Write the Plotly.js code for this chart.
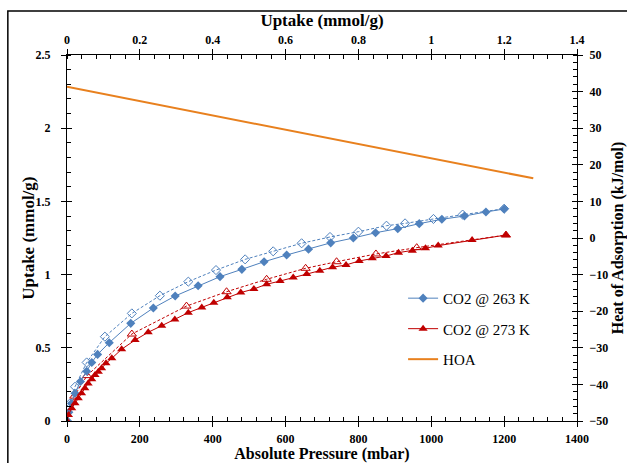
<!DOCTYPE html>
<html><head><meta charset="utf-8">
<script src="https://cdn.plot.ly/plotly-3.0.1.min.js"></script>
<style>body{margin:0;background:#fff}#c{width:627px;height:463px}</style>
</head><body><div id="c"></div>
<script>
// CO2 @ 263 K adsorption (filled diamonds)
const p263Ads = [0, 5, 12, 22, 37, 54, 68, 84, 116, 175, 237, 297, 360, 420, 480, 541, 603, 663, 724, 786, 847, 908, 967, 1029, 1091, 1150, 1200];
const u263Ads = [0, 0.06, 0.12, 0.19, 0.27, 0.34, 0.40, 0.455, 0.535, 0.667, 0.772, 0.854, 0.924, 0.986, 1.036, 1.088, 1.134, 1.174, 1.217, 1.25, 1.286, 1.314, 1.348, 1.378, 1.40, 1.428, 1.448];
// CO2 @ 263 K desorption (open diamonds, dashed)
const p263Des = [0, 8, 22, 54, 104, 178, 255, 333, 409, 489, 566, 644, 722, 800, 877, 928, 1006, 1086, 1200];
const u263Des = [0, 0.12, 0.234, 0.40, 0.576, 0.735, 0.856, 0.952, 1.031, 1.104, 1.159, 1.214, 1.257, 1.293, 1.334, 1.35, 1.38, 1.41, 1.45];
// CO2 @ 273 K adsorption (filled triangles)
const p273Ads = [0, 4, 13, 22, 31, 40, 49, 58, 68, 77, 86, 95, 107, 123, 150, 187, 223, 260, 296, 333, 370, 403, 440, 477, 513, 548, 585, 621, 658, 694, 729, 766, 802, 838, 876, 910, 948, 984, 1019, 1112, 1205];
const u273Ads = [0, 0.041, 0.087, 0.121, 0.155, 0.189, 0.223, 0.257, 0.285, 0.314, 0.337, 0.36, 0.394, 0.428, 0.49, 0.553, 0.606, 0.651, 0.694, 0.74, 0.776, 0.808, 0.845, 0.877, 0.902, 0.934, 0.956, 0.981, 1.004, 1.027, 1.05, 1.066, 1.093, 1.111, 1.127, 1.15, 1.163, 1.18, 1.198, 1.236, 1.27];
// CO2 @ 273 K desorption (open triangles, dashed)
const p273Des = [0, 20, 55, 178, 328, 438, 548, 655, 740, 848, 960, 1205];
const u273Des = [0, 0.17, 0.31, 0.594, 0.785, 0.883, 0.968, 1.043, 1.088, 1.141, 1.184, 1.27];
// Heat of adsorption vs uptake
const hoaUptake = [0, 1.28];
const hoaValue = [41.3, 16.3];

const blue = '#4F81BD', red = '#C00000', orange = '#E8801E';
const FONT = 'Liberation Serif, Times New Roman, serif';

const traces = [
  {x: p263Des, y: u263Des, mode: 'lines+markers', showlegend: false, hoverinfo: 'skip',
   line: {color: blue, width: 1, dash: '3px,2px'},
   marker: {symbol: 'diamond-open', size: 7, color: blue, line: {width: 1}}},
  {x: p273Des, y: u273Des, mode: 'lines+markers', showlegend: false, hoverinfo: 'skip',
   line: {color: red, width: 1, dash: '3px,2px'},
   marker: {symbol: 'triangle-up-open', size: 8, color: red, line: {width: 1}}},
  {x: p263Ads, y: u263Ads, mode: 'lines+markers', name: 'CO2 @ 263 K', legendgroup: 'a',
   line: {color: blue, width: 1},
   marker: {symbol: 'diamond', size: 7, color: blue}},
  {x: p273Ads, y: u273Ads, mode: 'lines+markers', name: 'CO2 @ 273 K', legendgroup: 'b',
   line: {color: red, width: 1},
   marker: {symbol: 'triangle-up', size: 8, color: red}},
  {x: hoaUptake, y: hoaValue, xaxis: 'x2', yaxis: 'y2', mode: 'lines', name: 'HOA', legendgroup: 'c',
   line: {color: orange, width: 2}},
  {x: [], y: [], xaxis: 'x3', yaxis: 'y3', showlegend: false, hoverinfo: 'skip'},
  {x: [], y: [], xaxis: 'x4', yaxis: 'y4', showlegend: false, hoverinfo: 'skip'}
];

const tickF = {family: FONT, size: 12, color: '#000', weight: 'bold'};
const titleF = {family: FONT, size: 16, color: '#000', weight: 'bold'};
const title17 = Object.assign({}, titleF, {size: 17});
const common = {showgrid: false, zeroline: false, showline: true, linecolor: '#000', linewidth: 1,
  ticks: 'outside', ticklen: 5, tickcolor: '#000', tickwidth: 1, tickfont: tickF,
  minor: {ticks: 'inside', ticklen: 4, tickcolor: '#000', tickwidth: 1}};

const layout = {
  width: 627, height: 463,
  margin: {l: 67, r: 50, t: 55, b: 42},
  paper_bgcolor: '#fff', plot_bgcolor: '#fff',
  font: {family: FONT, color: '#000'},
  showlegend: true,
  legend: {x: 0.659, y: 0.38, xanchor: 'left', yanchor: 'top', bgcolor: 'rgba(0,0,0,0)',
    font: {family: FONT, size: 15, color: '#000'}, traceorder: 'grouped', tracegroupgap: 8, itemwidth: 30},
  xaxis: Object.assign({}, common, {range: [0, 1400], tick0: 0, dtick: 200, minor: Object.assign({}, common.minor, {dtick: 40}),
    title: {text: 'Absolute Pressure (mbar)', font: titleF, standoff: 2}, ticklabelstandoff: 2}),
  yaxis: Object.assign({}, common, {range: [0, 2.5], tick0: 0, dtick: 0.5, minor: Object.assign({}, common.minor, {dtick: 0.1}),
    ticklabelstandoff: 8}),
  xaxis2: Object.assign({}, common, {overlaying: 'x', side: 'top', anchor: 'y2', range: [0, 1.4], tick0: 0, dtick: 0.2,
    minor: Object.assign({}, common.minor, {dtick: 0.04}),
    title: {text: 'Uptake (mmol/g)', font: title17, standoff: 2}, ticklabelstandoff: 0}),
  yaxis2: Object.assign({}, common, {overlaying: 'y', side: 'right', anchor: 'x2', range: [-50, 50], tick0: -50, dtick: 10,
    minor: Object.assign({}, common.minor, {dtick: 2}),
    title: {text: 'Heat of Adsorption (kJ/mol)', font: titleF, standoff: 4}, ticklabelstandoff: 4}),
  xaxis3: {overlaying: 'x', side: 'bottom', anchor: 'y3', range: [0, 1400], dtick: 200, ticks: 'inside', ticklen: 5, tickcolor: '#000',
    showticklabels: false, showgrid: false, zeroline: false, showline: false},
  yaxis3: {overlaying: 'y', side: 'left', anchor: 'x3', range: [0, 2.5], dtick: 0.5, ticks: 'inside', ticklen: 5, tickcolor: '#000',
    showticklabels: false, showgrid: false, zeroline: false, showline: false},
  xaxis4: {overlaying: 'x', side: 'top', anchor: 'y4', range: [0, 1.4], dtick: 0.2, ticks: 'inside', ticklen: 5, tickcolor: '#000',
    showticklabels: false, showgrid: false, zeroline: false, showline: false},
  yaxis4: {overlaying: 'y', side: 'right', anchor: 'x4', range: [-50, 50], dtick: 10, ticks: 'inside', ticklen: 5, tickcolor: '#000',
    showticklabels: false, showgrid: false, zeroline: false, showline: false},
  annotations: [{text: 'Uptake (mmol/g)', xref: 'paper', yref: 'paper', x: -0.077, y: 0.5, xanchor: 'center', yanchor: 'middle',
    textangle: -90, showarrow: false, font: title17}],
  shapes: [{type: 'rect', xref: 'paper', yref: 'paper', x0: -0.116, x1: 1.3, y0: -0.3, y1: 1.12,
    line: {color: '#000', width: 1.5}, fillcolor: 'rgba(0,0,0,0)'}]
};

Plotly.newPlot('c', traces, layout, {staticPlot: true});
</script></body></html>
